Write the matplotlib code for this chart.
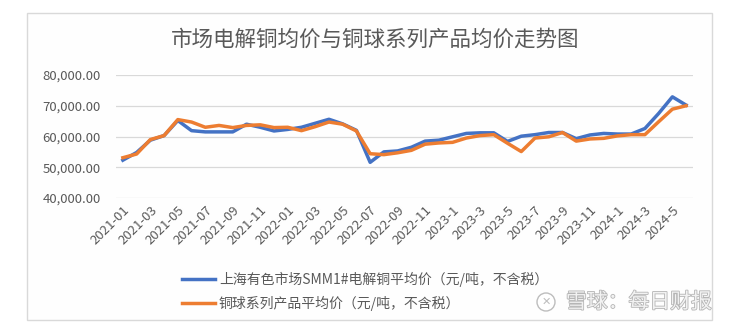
import matplotlib
matplotlib.use("Agg")
import matplotlib.pyplot as plt
import matplotlib.patheffects as pe
from matplotlib.patches import Rectangle, Ellipse

plt.rcParams['font.family'] = ['Noto Sans CJK SC', 'DejaVu Sans']

# Monthly average prices, 2021-01 .. 2024-06 (yuan/ton, excl. tax)
smm_cathode = [52300, 54800, 58800, 60300, 65200, 61900, 61500, 61500, 61500, 64000,
               63000, 61800, 62300, 63000, 64300, 65600, 64100, 62000, 51600, 55000,
               55300, 56500, 58500, 58800, 59900, 61000, 61200, 61200, 58400, 60100,
               60600, 61300, 61300, 59300, 60500, 61000, 60800, 60800, 62600, 67500,
               72900, 70200]
copper_ball = [53100, 54300, 59000, 60300, 65500, 64700, 63000, 63600, 62900, 63600,
               63800, 62900, 63000, 61900, 63200, 64700, 64000, 61800, 54400, 54100,
               54700, 55500, 57500, 57900, 58100, 59500, 60300, 60600, 57800, 55100,
               59500, 59900, 61300, 58500, 59200, 59400, 60200, 60600, 60600, 64800,
               68900, 70000]
tick_labels = ["2021-01", "2021-03", "2021-05", "2021-07", "2021-09", "2021-11",
               "2022-01", "2022-03", "2022-05", "2022-07", "2022-09", "2022-11",
               "2023-1", "2023-3", "2023-5", "2023-7", "2023-9", "2023-11",
               "2024-1", "2024-3", "2024-5"]
y_ticks = [40000, 50000, 60000, 70000, 80000]

series_names = ["上海有色市场SMM1#电解铜平均价（元/吨，不含税）",
                "铜球系列产品平均价（元/吨，不含税）"]
title = "市场电解铜均价与铜球系列产品均价走势图"

W, H = 739, 327
fig = plt.figure(figsize=(W / 100, H / 100), dpi=100)
fig.patch.set_facecolor("white")

# outer chart frame
fig.add_artist(Rectangle((27 / W, 1 - 320 / H), (712 - 27) / W, (320 - 13) / H,
                         transform=fig.transFigure, facecolor="#fefefe",
                         edgecolor="#d9d9d9", linewidth=1.0, zorder=0))

ax = fig.add_axes([116 / W, 1 - 198 / H, 577 / W, (198 - 75) / H])
ax.set_facecolor("none")

x = list(range(len(smm_cathode)))
ax.plot(x, smm_cathode, color="#4472C4", linewidth=2.5, solid_joinstyle="round",
        label=series_names[0], zorder=3)
ax.plot(x, copper_ball, color="#ED7D31", linewidth=2.5, solid_joinstyle="round",
        label=series_names[1], zorder=4)

ax.set_xlim(-0.5, len(x) - 0.5)
ax.set_ylim(40000, 80000)
ax.set_yticks(y_ticks)
ax.set_yticklabels([f"{v:,.2f}" for v in y_ticks])
ax.set_xticks(range(0, len(x), 2))
ax.set_xticklabels(tick_labels, rotation=45, ha="right", va="top",
                   rotation_mode="anchor")
ax.tick_params(axis="y", length=0, pad=11, labelsize=9.5, labelcolor="#595959")
ax.tick_params(axis="x", length=0, pad=4, labelsize=9.5, labelcolor="#595959")
ax.grid(axis="y", color="#d9d9d9", linewidth=0.9)
ax.set_axisbelow(True)
for s in ax.spines.values():
    s.set_visible(False)

fig.text(375 / W, 1 - 40 / H, title, ha="center", va="center",
         fontsize=15.5, color="#595959")

ax.legend(loc="upper left", bbox_to_anchor=(182 / W, 1 - 272 / H),
          bbox_transform=fig.transFigure, frameon=False, fontsize=10,
          handlelength=2.4, handletextpad=0.25, labelspacing=0.65,
          borderpad=0, borderaxespad=0, labelcolor="#595959")

# watermark
fig.add_artist(Ellipse((546 / W, 1 - 302 / H), 18 / W, 18 / H,
                       transform=fig.transFigure, facecolor="white",
                       edgecolor="#bdbdbd", linewidth=1.0, zorder=5))
fig.text(546 / W, 1 - 302 / H, "✕", ha="center", va="center", fontsize=8,
         color="#bdbdbd", family="DejaVu Sans", zorder=6)
fig.text(566 / W, 1 - 302 / H, "雪球：每日财报", ha="left", va="center",
         fontsize=15, color="#f2f2f2", zorder=6,
         path_effects=[pe.withStroke(linewidth=1.2, foreground="#b5b5b5")])

fig.savefig("out.png", dpi=100, facecolor="white")
